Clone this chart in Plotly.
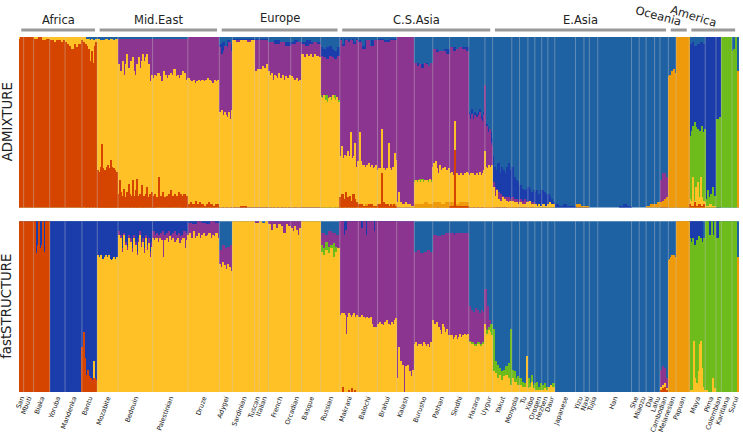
import plotly.graph_objects as go

POPS = ["San","Mbuti","Biaka","Yoruba","Mandenka","Bantu","Mozabite","Bedouin","Palestinian","Druze",
        "Adygei","Sardinian","Tuscan","Italian","French","Orcadian","Basque","Russian",
        "Makrani","Balochi","Brahui","Kalash","Burusho","Pathan","Sindhi","Hazara","Uygur",
        "Yakut","Mongola","Tu","Xibo","Oroqen","Hezhen","Daur","Japanese","Yizu","Naxi","Tujia","Han",
        "She","Miaozu","Dai","Lahu","Cambodian","Melanesian","Papuan",
        "Maya","Pima","Colombian","Karitiana","Surui"]
SAMPLES = [6,13,21,20,22,20,27,45,46,41,17,29,6,12,29,14,25,25,
           24,25,25,23,24,22,25,21,10,25,10,11,9,9,8,9,27,11,7,11,44,10,9,11,7,11,10,17,
           21,14,7,14,9]
GROUPS = ["Africa","Mid.East","Europe","C.S.Asia","E.Asia","Oceania","America"]
GROUP_SIZES = [6,4,8,9,17,2,5]

# Every value is the height (0-100 %) reached by that ancestry colour in the stacked column.
ADM_BLUE2 = {
 "Adygei":[96,97,95,98,96],"Sardinian":[99],"Tuscan":[99],"Italian":[99],"French":[97,98,97,97],
 "Orcadian":[97,98,97],"Basque":[97,98,97,97],"Russian":[94,93,94,95,93,92,94],
 "Makrani":[99,96,99,98,99,90,99,97,99],"Balochi":[98,95,98,91,98,97],"Brahui":[99,98,99],
 "Burusho":[85,84,85,83],"Pathan":[93,92,93],"Sindhi":[94,93,94],
 "Hazara":[56,55,58,54,56,53,55,56,58,54,53,56],"Uygur":[50,46,49,47,42,40,44,41],
 "Yakut":[30,24,22,26,20,24,22,20,24,26,22],"Mongola":[24,18,16,15],"Tu":[13,11,10,11],"Xibo":[12,11,9,10],
 "Oroqen":[9,10,8,10],"Hezhen":[10,9,8],"Daur":[8,7,5,3],"Japanese":[2,1,2,1,1],"Yizu":[1],"Naxi":[1],
 "Han":[0,0,0,0,0,1,2,1],"Maya":[96,97,95,96,97,96],"Pima":[100],"Colombian":[100],
}
ADM_PURPLE = {
 "Bedouin":[99],"Palestinian":[99],"Druze":[100],"Adygei":[94,90,92,95,94,97,92],"Sardinian":[98],
 "Tuscan":[98],"Italian":[98],"French":[97,96,97,95],"Orcadian":[96,97],"Basque":[96,95,96,97,96],
 "Russian":[89,88,87,89,88,87,89],
 "Makrani":[98,95,98,97,98,96,98],"Balochi":[97,93,98,95,98],"Brahui":[98,97,98],"Kalash":[100],
 "Burusho":[85,83,84,82,85,84,83,85],"Pathan":[93,91,92,92,90],"Sindhi":[94,92,93,94,93,92],
 "Hazara":[54,52,55,52,54,51,53,54,56,52,51,54],"Uygur":[72,46,48,44,40,46,38,36],
 "Yakut":[15,12,11,9,8,7,6,6,6,5],"Mongola":[6,5,5,4],"Tu":[5,4,5,4],"Xibo":[4,3],
 "Cambodian":[16,20,20,18],
}
ADM_GREEN = {
 "Russian":[66,65,64,66,63,62,65,64,66,65,63],"Burusho":[16,17,15,16],
 "Maya":[41,42,45,48,43,50,47,44,46,42,45,43,48,44,42,46],"Pima":[5,10,6,8,12,7],"Colombian":[52,53],
 "Karitiana":[100],"Surui":[92,93,100,0],
}
ADM_YELLOW = {
 "San":[100],"Mbuti":[100],"Biaka":[100],"Yoruba":[100],"Mandenka":[100],"Bantu":[100,100,99,99,98,99,98,99],
 "Mozabite":[99,98,98,99,98,99,98,99],
 "Bedouin":[84,76,80,86,78,84,90,82,78,86,88,80,78,84,88,82,86,90,86,88,90,84,74,78],
 "Palestinian":[76,78,77,79,77,74,80,78,76,78,79,78,81,77,78,76,78,80,79,75],
 "Druze":[76,75,74,75,73,74,75,74,75,74,75,76,75,74,73,75,74,75],
 "Adygei":[56,54,57,54,56,54,53,56,52,57],"Sardinian":[98,97,98,98,97,98],"Tuscan":[80,81],"Italian":[81,83,82,84],
 "French":[80,78,79,75,78,77,76,79,72,76,78,75,77,74,76,78],"Orcadian":[77,76,75,76,74,75],
 "Basque":[90,88,90,89,90,88,90,89,88],"Russian":[65,64,66,63,62,64,65,63,66,64,63,65,62],
 "Makrani":[27,30,36,29,26,31,30,33,28,30,44,29,27,30,38,24,20,27],
 "Balochi":[26,44,27,25,24,25,22,24,25,23,26,22,24,25,22,23,24,25,22],
 "Brahui":[22,23,22,23,46,22,23,21,22,23,22,38,23,22,21,24,23,32,28],
 "Kalash":[3,9,3,2,2,3,2,2,1,1],
 "Burusho":[15,16,14,15,16,15,14,16,15,14,16,15,16,14,15,17,15,14],
 "Pathan":[24,26,21,27,23,20,25,22,19,23,21,24,18,22,20,23],
 "Sindhi":[20,19,21,18,19,51,18,20,19,18,19,20,19,18,19,20,19,21,20],
 "Hazara":[19,20,18,20,19,18,20,19,21,19,20,22],"Uygur":[33,24,22,23,25,24,22,25],
 "Yakut":[12,7,10,5,4,6,5,4,3,4],"Mongola":[4,3,3,2],"Tu":[3,2,2,3],"Xibo":[3,4,2,2],"Oroqen":[2,1,2,1],
 "Hezhen":[2,1],"Daur":[2,3,2,2],
 "Maya":[5,3,4,18,4,3,12,5,15,6,4,18,6,3,4,3],"Pima":[1,2,1],
}
ADM_ORANGE = {
 "Burusho":[2,2,3,2],"Pathan":[3,3,2,3],"Sindhi":[3,2,3,3],"Brahui":[2,1,2],"Balochi":[1,2,1],
 "Yizu":[2,2,1],"Naxi":[1],"Dai":[1,2],"Lahu":[2,3],"Cambodian":[3,4,5,6],
 "Melanesian":[77,78,76,80,79,81,79],
 "Papuan":[100,100,100,78,100,100,100,100,100,100,100,100,100],"Surui":[0,0,0,80],
}
ADM_RED = {
 "San":[99,100,100],"Mbuti":[100],"Biaka":[99,100,98,99],"Yoruba":[98,98,97,98,98,97,98],
 "Mandenka":[97,96,95,93,96,94,96,96],"Bantu":[98,97,96,95,93,86,92,85,95,97],
 "Mozabite":[22,20,21,24,37,23,22,21,22,24,25,23,22,28,24,22,23,22,21,21],
 "Bedouin":[8,16,9,7,11,6,9,14,8,7,16,7,10,17,7,8,13,6,7,8,12,6,8,9],
 "Palestinian":[7,8,6,18,7,9,6,7,8,10,7,8,7,9,8,7,8,7],
 "Druze":[2,3,2,4,2,3,2,1,2,3,2,1,2,2],"Sardinian":[0,1,0],
 "Makrani":[6,8,5,9,6,7,4,8,5,3],"Balochi":[2,1,2,1],
 "Brahui":[2,1,2,1,20,2,3,2,2,1,2,1,1,2,1,1,2,1,1],
 "Sindhi":[1,1,1,1,1,34,1,1,1,1,1,1,1,1,1,1,1,1,1],"Maya":[2,1,3,1,2,1,2],
}

FS_BLUE2 = {
 "Biaka":[100],"Yoruba":[100],"Mandenka":[100],"Bantu":[100],"Mozabite":[100],"Bedouin":[100],"Palestinian":[100],
 "Druze":[100],"Makrani":[100],"Balochi":[100],"Brahui":[100],
 "Sindhi":[0,0,0,0,93,0,0,0,0,0,0,0,0,0,0,0,0,0,0],
 "Maya":[100,100,100,100,100,0],"Pima":[100],"Colombian":[100],
}
FS_PURPLE = {
 "Bedouin":[94,88,92,84,93,88,85,92,86,90,84,92,88,82,90,94,88,90,84,92,86,90,82,88],
 "Palestinian":[94,92,93,92,93,94,92,93,94,92,93,94,92,93,91,92,94,93],
 "Druze":[99,98,100,99,98,100,99],
 "Adygei":[83,86,84,85,86],"Tuscan":[100],"French":[100],"Orcadian":[100],
 "Russian":[93,92,94,93,92],
 "Makrani":[100,100,100,100,92,88,95,100,100,100,92,100,100,100,96,100,100,100],
 "Balochi":[100,100,96,100,100,92,100,100,100,100,94,100],
 "Brahui":[100,100,100,100,77,100,100,100,100,100,85,100,100,100,100,100,100,100,100],"Kalash":[100],
 "Burusho":[82,83,81,82,83,82],"Pathan":[92,91,92,93],
 "Sindhi":[93,92,93,93,56,92,93,92,93,93,92,93,92,93,93,92,93,92,93],
 "Hazara":[50,48,47,49,48,46,48,47],"Uygur":[60,50,42,38],"Cambodian":[13,15,14,8],
}
FS_GREEN = {
 "Russian":[86,84,88,85,86,87,85,84],"Hazara":[30,29,28,29,28,29],"Uygur":[37,36,38,40],
 "Yakut":[37,18,16,14,12,13,15,17,37],"Mongola":[13,12,8,9],"Tu":[8,6,5,8],"Xibo":[8,5,10,4],"Oroqen":[5,6,3,5],
 "Hezhen":[4,5,3],"Daur":[3,4,5],
 "Maya":[90,88,90,86,89,91,90,88,90],"Pima":[100,100,100,92,92,100,92,100],"Colombian":[90,100],
 "Karitiana":[100],"Surui":[100,100,100,0],
}
FS_YELLOW = {
 "Bantu":[0,0,0,0,0,0,0,0,18,0,0],
 "Mozabite":[80,79,78,80,77,78,63,79,80,78,79,80,78,77,72,78,79,76,78,79],
 "Bedouin":[92,84,90,82,92,86,83,90,84,88,82,90,86,80,88,92,85,88,81,90,83,87,79,85],
 "Palestinian":[90,89,90,88,90,89,79,89,90,88,91,89,90,88,89,90,87,89,90,84,89],
 "Druze":[92,93,90,94,90,91,93,90,92,93,91,92,93,90,92,91,93,90],
 "Adygei":[75,73,76,74,72,75,73,71],"Sardinian":[100],"Tuscan":[99],"Italian":[100,99,100],
 "French":[98,95,98,96,98,97,93,98,97],"Orcadian":[96,94,97,95,92,96],"Basque":[100],
 "Russian":[82,80,83,81,84,79,82,84],
 "Makrani":[26,45,46,44,46,45,34,44,46,45,44,34,45,46,44,43,45,44],
 "Balochi":[43,44,42,45,43,44,42,43,44,23,43,42,44,40,38,37,38,36,38],
 "Brahui":[40,36,41,35,40,39,37,41,38,42,37,40,36,39,41,38,40,42,43],
 "Kalash":[8,26,18,16,0,15,16,12,9,13],
 "Burusho":[28,29,27,28,26,28,27,29,28,27,28,26,29,28],"Pathan":[42,40,35,41,38,36,34,40,38,35,37,33],
 "Sindhi":[33,30,33,31,22,32,33,29,31,32,34,32,30,33,31,34,32,33,34],
 "Hazara":[29,28,27,28,27,28],"Uygur":[40,34,36,35,33],
 "Yakut":[12,11,8,10,7,9,10,8,4],"Mongola":[8,6,4],"Tu":[4,3,3,21],"Xibo":[2,3,6,2],"Oroqen":[1,1,1],
 "Hezhen":[1,2,1],"Daur":[3,4,3],"Cambodian":[3,4,5,2],
 "Maya":[1,1,1,1,30,8,3,5,2,12,28,30,14,3,1,1],"Pima":[1,1,0,0,0,8,2],
}
FS_ORANGE = {
 "Melanesian":[77,78,79,80,79,80,79],
 "Papuan":[100,100,100,78,100,100,100,100,100,100,100,100,100],"Surui":[0,0,0,79],
}
FS_RED = {
 "San":[100],"Mbuti":[100],"Biaka":[100,100,81,86,100,84,86,100,82,100,100,100],
 "Bantu":[26,35,20,10,13,9,8,7,8,8,7],
 "Makrani":[0,0,0,3,0,0,0,0,1,0,0,2,0,0,1,0,0,0],"Cambodian":[1,2,3,1],
}

STEEL, BLUE2, PURPLE, GREEN, YELLOW, ORANGE, RED = (
    "#1F62A3", "#1A3DAB", "#8B3590", "#6EBB1C", "#FFC125", "#EE9A0A", "#D64500")
FONT = "DejaVu Sans"

starts = [sum(SAMPLES[:i]) for i in range(len(SAMPLES))]
total = sum(SAMPLES)
centers = [s + n / 2 for s, n in zip(starts, SAMPLES)]
fig = go.Figure()


def add_layer(values, color, yaxis):
    xs, ws, ys = [], [], []
    for pop, vals in values.items():
        i = POPS.index(pop)
        w = SAMPLES[i] / len(vals)
        for j, v in enumerate(vals):
            xs.append(starts[i] + w * (j + 0.5))
            ws.append(w)
            ys.append(v)
    fig.add_bar(x=xs, y=ys, width=ws, marker=dict(color=color, line=dict(width=0)),
                yaxis=yaxis, xaxis="x", showlegend=False)


for yaxis, layers in (
    ("y", (ADM_BLUE2, ADM_PURPLE, ADM_GREEN, ADM_YELLOW, ADM_ORANGE, ADM_RED)),
    ("y2", (FS_BLUE2, FS_PURPLE, FS_GREEN, FS_YELLOW, FS_ORANGE, FS_RED)),
):
    add_layer({p: [100] for p in POPS}, STEEL, yaxis)
    for vals, col in zip(layers, (BLUE2, PURPLE, GREEN, YELLOW, ORANGE, RED)):
        add_layer(vals, col, yaxis)
    sx, sy = [], []
    for s in starts[1:]:
        sx += [s, s, None]
        sy += [0, 100, None]
    fig.add_scatter(x=sx, y=sy, mode="lines", yaxis=yaxis, xaxis="x", showlegend=False,
                    line=dict(color="rgba(200,200,200,0.5)", width=0.8))

shapes, annos = [], []
k = 0
for name, size in zip(GROUPS, GROUP_SIZES):
    a = starts[k]
    b = starts[k + size - 1] + SAMPLES[k + size - 1]
    k += size
    right = b - (5 if name == "America" else 3)
    shapes.append(dict(type="line", xref="x", yref="paper", x0=a + 3, x1=right, y0=1.0197, y1=1.0197,
                       line=dict(color="#999999", width=3)))
    tilt = {"Oceania": 15, "America": 17}.get(name, 0)
    shift = {"Oceania": -20, "America": -21}.get(name, 0)
    up = {"Europe": 1.054, "Oceania": 1.060, "America": 1.060}.get(name, 1.048)
    annos.append(dict(text=name, xref="x", yref="paper", x=(a + b) / 2, y=up, xshift=shift, textangle=tilt,
                      showarrow=False, xanchor="center", yanchor="middle",
                      font=dict(family=FONT, size=11.5, color="#222222")))
annos.append(dict(text="ADMIXTURE", xref="paper", yref="paper", x=-0.0166, y=0.76, textangle=-90,
                  showarrow=False, xanchor="center", yanchor="middle",
                  font=dict(family=FONT, size=13.3, color="#222222")))
annos.append(dict(text="fastSTRUCTURE", xref="paper", yref="paper", x=-0.0166, y=0.24, textangle=-90,
                  showarrow=False, xanchor="center", yanchor="middle",
                  font=dict(family=FONT, size=13.3, color="#222222")))

fig.update_layout(
    width=743, height=435, barmode="overlay", bargap=0,
    margin=dict(l=19, r=2, t=37, b=42),
    paper_bgcolor="white", plot_bgcolor="white",
    font=dict(family=FONT, color="#222222"),
    shapes=shapes, annotations=annos,
    xaxis=dict(range=[0, total], tickmode="array", tickvals=centers, ticktext=POPS, tickangle=-70,
               tickfont=dict(family=FONT, size=6.6, color="#222222"), ticks="", showgrid=False,
               zeroline=False, showline=False, anchor="y2"),
    yaxis=dict(domain=[0.5197, 1], range=[0, 100], showticklabels=False, ticks="",
               showgrid=False, zeroline=False),
    yaxis2=dict(domain=[0, 0.4813], range=[0, 100], showticklabels=False, ticks="",
                showgrid=False, zeroline=False),
)
fig.write_html("out.html", config={"displayModeBar": False},
               post_script="document.body.style.margin='0';document.body.style.overflow='hidden';")
